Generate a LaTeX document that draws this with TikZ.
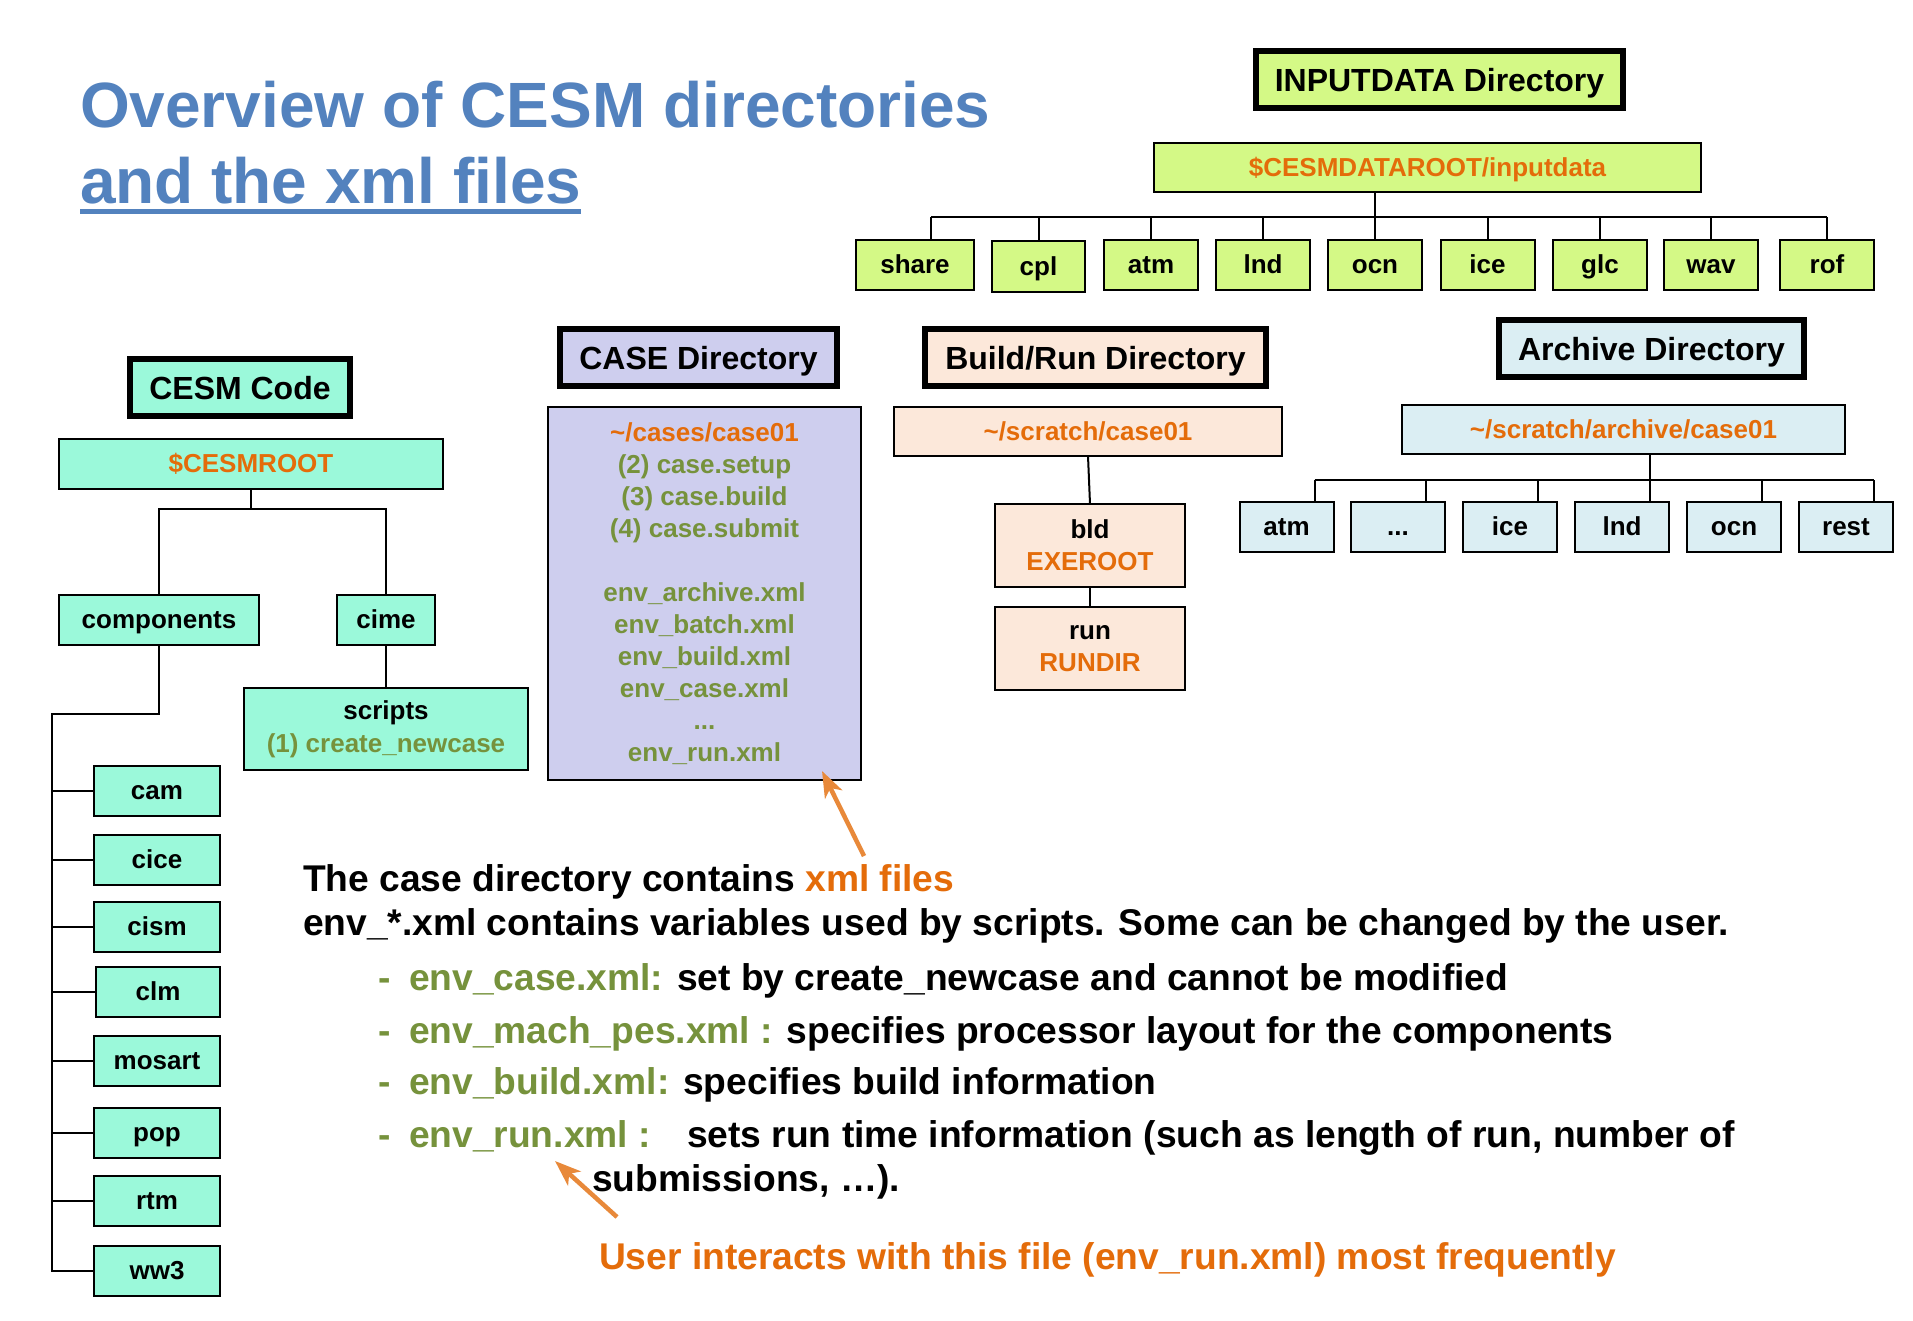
\documentclass[tikz,border=0pt]{standalone}
\usepackage{fontspec}
\setmainfont{Liberation Sans}
\usetikzlibrary{arrows.meta,calc}
\definecolor{mint}{HTML}{9BF9DA}
\definecolor{lime}{HTML}{D4F986}
\definecolor{lav}{HTML}{CECEEE}
\definecolor{peach}{HTML}{FCE8DA}
\definecolor{lblue}{HTML}{DBEEF3}
\definecolor{orng}{HTML}{E46C0A}
\definecolor{arrorng}{HTML}{E8893A}
\definecolor{grn}{HTML}{76923C}
\definecolor{ttl}{HTML}{5382BE}
\begin{document}
\begin{tikzpicture}[x=1pt,y=-1pt,
  every node/.style={inner sep=0pt, outer sep=0pt},
  hdr/.style={draw=black, line width=6pt, font=\bfseries\fontsize{32}{38}\selectfont, text height=27pt, text depth=4pt},
  box/.style={draw=black, line width=2pt, font=\bfseries\fontsize{26}{32}\selectfont, text height=20pt, text depth=3pt},
  mbox/.style={draw=black, line width=2pt, font=\bfseries\fontsize{26}{32}\selectfont, align=center},
  kid/.style={box, minimum width=94pt, minimum height=50pt},
  comp/.style={box, fill=mint, minimum width=126pt, minimum height=50pt},
  conn/.style={line width=2pt, black},
  txt/.style={anchor=base west, font=\bfseries\fontsize{37.2}{44}\selectfont},
  titletxt/.style={anchor=base west, text=ttl, font=\bfseries\fontsize{64}{76}\selectfont},
  arr/.style={line width=4.5pt, arrorng, -{Stealth[length=26pt,width=19pt,inset=7pt]}}
]
\useasboundingbox[fill=white] (0,0) rectangle (1913,1320);

% ---------- title
\node[titletxt] (t1) at (80,127) {Overview of CESM directories};
\node[titletxt] (t2) at (80,203) {and the xml files};
\draw[ttl, line width=5pt] ($(t2.base west)+(0,8)$) -- ($(t2.base east)+(0,8)$);

% ---------- INPUTDATA
\node[hdr, fill=lime, minimum width=367pt, minimum height=57pt] (inh) at (1439.5,79.5) {INPUTDATA Directory};
\node[box, fill=lime, text=orng, minimum width=547pt, minimum height=49pt] (inr) at (1427.5,167.5) {\$CESMDATAROOT/inputdata};
\node[kid, fill=lime, minimum width=118pt] (share) at (915,264.5) {share};
\node[kid, fill=lime, minimum width=93pt, minimum height=51pt] (cpl) at (1038.5,266.5) {cpl};
\node[kid, fill=lime] (atm) at (1151,264.5) {atm};
\node[kid, fill=lime] (lnd) at (1263,264.5) {lnd};
\node[kid, fill=lime] (ocn) at (1375,264.5) {ocn};
\node[kid, fill=lime] (ice) at (1487.5,264.5) {ice};
\node[kid, fill=lime] (glc) at (1600,264.5) {glc};
\node[kid, fill=lime] (wav) at (1711,264.5) {wav};
\node[kid, fill=lime] (rof) at (1827,264.5) {rof};
\coordinate (ibus) at (0,217);
\coordinate (shareT) at ([xshift=16pt]share.north);
\draw[conn] (shareT |- ibus) -- (rof.north |- ibus);
\draw[conn] (ocn.north |- inr.south) -- (ocn.north);
\draw[conn] (shareT |- ibus) -- (shareT);
\foreach \c in {cpl,atm,lnd,ice,glc,wav,rof}{
  \draw[conn] (\c.north |- ibus) -- (\c.north);
}

% ---------- CESM code
\node[hdr, fill=mint, minimum width=220pt, minimum height=57pt] (ch) at (240,387.5) {CESM Code};
\node[box, fill=mint, text=orng, minimum width=384pt, minimum height=50pt] (cr) at (251,464) {\$CESMROOT};
\node[box, fill=mint, minimum width=200pt, minimum height=50pt] (cmp) at (159,620) {components};
\node[box, fill=mint, minimum width=98pt, minimum height=50pt] (cime) at (386,620) {cime};
\node[mbox, fill=mint, font=\bfseries\fontsize{26}{33}\selectfont, minimum width=284pt, minimum height=82pt] (scr) at (386,729) {scripts\\{\color{grn}(1) create\_newcase}};
\draw[conn] (cr.south) -- ++(0,20) -| (cmp.north);
\draw[conn] (cr.south) -- ++(0,20) -| (cime.north);
\draw[conn] (cime.south) -- (scr.north);

\node[comp] (cam) at (157,791) {cam};
\node[comp] (cice) at (157,859.5) {cice};
\node[comp] (cism) at (157,927) {cism};
\node[comp, minimum width=124pt] (clm) at (158,992) {clm};
\node[comp] (mosart) at (157,1061) {mosart};
\node[comp] (pop) at (157,1133) {pop};
\node[comp] (rtm) at (157,1201) {rtm};
\node[comp] (ww3) at (157,1271) {ww3};
\coordinate (trunk) at (52,714);
\draw[conn] (cmp.south) |- (trunk) -- (trunk |- ww3.west) -- (ww3.west);
\foreach \c in {cam,cice,cism,clm,mosart,pop,rtm}{
  \draw[conn] (trunk |- \c.west) -- (\c.west);
}

% ---------- CASE
\node[hdr, fill=lav, minimum width=277pt, minimum height=57pt] (cah) at (698.5,357.5) {CASE Directory};
\node[mbox, fill=lav, text=grn, minimum width=313pt, minimum height=373pt] (cab) at (704.5,593.5)
  {{\color{orng}\textasciitilde/cases/case01}\\(2) case.setup\\(3) case.build\\(4) case.submit\\[32pt]env\_archive.xml\\env\_batch.xml\\env\_build.xml\\env\_case.xml\\...\\env\_run.xml};

% ---------- Build/Run
\node[hdr, fill=peach, minimum width=341pt, minimum height=57pt] (bh) at (1095.5,357.5) {Build/Run Directory};
\node[box, fill=peach, text=orng, minimum width=388pt, minimum height=49pt] (br) at (1088,431.5) {\textasciitilde/scratch/case01};
\node[mbox, fill=peach, minimum width=190pt, minimum height=83pt] (bld) at (1090,545.5) {bld\\{\color{orng}EXEROOT}};
\node[mbox, fill=peach, minimum width=190pt, minimum height=83pt] (run) at (1090,648.5) {run\\{\color{orng}RUNDIR}};
\draw[conn] (br.south) -- (bld.north);
\draw[conn] (bld.south) -- (run.north);

% ---------- Archive
\node[hdr, fill=lblue, minimum width=305pt, minimum height=57pt] (ah) at (1651.5,348.5) {Archive Directory};
\node[box, fill=lblue, text=orng, minimum width=443pt, minimum height=49pt] (ar) at (1623.5,429.5) {\textasciitilde/scratch/archive/case01};
\node[kid, fill=lblue] (aatm) at (1286.5,527) {atm};
\node[kid, fill=lblue] (adots) at (1398,527) {...};
\node[kid, fill=lblue] (aice) at (1510,527) {ice};
\node[kid, fill=lblue] (alnd) at (1622,527) {lnd};
\node[kid, fill=lblue] (aocn) at (1734,527) {ocn};
\node[kid, fill=lblue] (arest) at (1846,527) {rest};
\coordinate (abus) at (0,480);
\foreach \c in {aatm,adots,aice,alnd,aocn,arest}{
  \coordinate (\c T) at ([xshift=28pt]\c.north);
}
\draw[conn] (aatmT |- abus) -- (arestT |- abus);
\draw[conn] (alndT |- ar.south) -- (alndT);
\foreach \c in {aatm,adots,aice,aocn,arest}{
  \draw[conn] (\c T |- abus) -- (\c T);
}

% ---------- bottom text
\node[txt] (b1) at (303,891) {The case directory contains {\color{orng}xml files}};
\node[txt] (b2) at (303,935) {env\_*.xml contains variables used by scripts. Some can be changed by the user.};
\node[txt, text=grn] (d3) at (378,990) {-};
\node[txt] (b3) at (409,990) {{\color{grn}env\_case.xml:} set by create\_newcase and cannot be modified};
\node[txt, text=grn] (d4) at (378,1043) {-};
\node[txt] (b4) at (409,1043) {{\color{grn}env\_mach\_pes.xml :} specifies processor layout for the components};
\node[txt, text=grn] (d5) at (378,1094) {-};
\node[txt] (b5) at (409,1094) {{\color{grn}env\_build.xml:} specifies build information};
\node[txt, text=grn] (d6) at (378,1147) {-};
\node[txt, text=grn] (b6a) at (409,1147) {env\_run.xml :};
\node[txt] (b6b) at (687,1147) {sets run time information (such as length of run, number of};
\node[txt] (b7) at (592,1191) {submissions, …).};
\node[txt, text=orng] (b8) at (599,1269) {User interacts with this file (env\_run.xml) most frequently};

% ---------- arrows
\coordinate (a1s) at (864,856);
\coordinate (a1e) at (822,771);
\coordinate (a2s) at (617,1217);
\coordinate (a2e) at (555,1161);
\draw[arr] (a1s) -- (a1e);
\draw[arr] (a2s) -- (a2e);
\end{tikzpicture}
\end{document}
